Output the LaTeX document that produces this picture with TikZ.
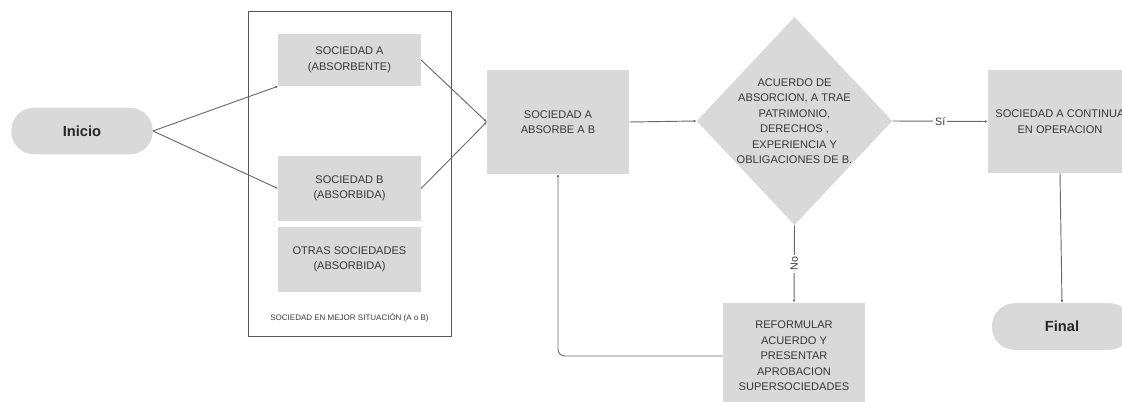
\documentclass[tikz,border=0pt]{standalone}
\usepackage{fontspec}
\setmainfont{Liberation Sans}
\usetikzlibrary{shapes.geometric,arrows.meta}
\definecolor{boxgray}{HTML}{D9D9D9}
\definecolor{linegray}{HTML}{6A6A6A}
\definecolor{txtgray}{HTML}{383838}
\tikzset{
	caja/.style={rectangle, fill=boxgray, text=txtgray, align=center, font=\fontsize{8.3}{11.6}\selectfont, inner sep=0pt},
	inicfin/.style={rectangle, rounded corners=17pt, fill=boxgray, text=black!85, font=\fontsize{11}{13}\selectfont\bfseries, minimum width=106pt, minimum height=35pt},
	decision/.style={diamond, fill=boxgray, text=txtgray, align=center, font=\fontsize{8.3}{11.6}\selectfont, inner sep=0pt, aspect=0.94, minimum width=146pt, minimum height=156pt},
	flecha/.style={draw=linegray, line width=0.7pt, -{Latex[length=2pt,width=2pt]}},
	etiq/.style={fill=white, text=txtgray, font=\fontsize{8}{10}\selectfont, inner sep=1.5pt}
}
\begin{document}
\begin{tikzpicture}[x=0.75pt, y=-0.75pt]
		%%%%% START %%%%%
		\useasboundingbox (0,0) rectangle (1122,402);
		
		\node[inicfin] (inicio) at (82, 131) {Inicio};
		
		\draw[draw=black!65, line width=0.6pt] (248, 11) rectangle (451, 336);
		\node[caja, minimum width=107pt, minimum height=39pt] (socA) at (349.5, 60) {SOCIEDAD A\\(ABSORBENTE)};
		\node[caja, minimum width=107pt, minimum height=49pt] (socB) at (349.5, 188.5) {SOCIEDAD B\\(ABSORBIDA)};
		\node[caja, minimum width=107pt, minimum height=49pt] (otras) at (349.5, 259.5) {OTRAS SOCIEDADES\\(ABSORBIDA)};
		\node[text=txtgray, font=\fontsize{6}{7}\selectfont] (mejor) at (349.5, 318) {SOCIEDAD EN MEJOR SITUACIÓN (A o B)};
		
		\node[caja, minimum width=106.5pt, minimum height=78pt] (socAB) at (558, 122) {SOCIEDAD A\\ABSORBE A B};
		\node[decision] (acuerdo) at (794.5, 121) {ACUERDO DE\\ABSORCION, A TRAE\\PATRIMONIO,\\DERECHOS ,\\EXPERIENCIA Y\\OBLIGACIONES DE B.};
		\node[caja, minimum width=108pt, minimum height=77pt] (socCont) at (1060, 121.5) {SOCIEDAD A CONTINUA\\EN OPERACION};
		\node[caja, minimum width=106.5pt, minimum height=80pt] (reform) at (794, 356) {REFORMULAR\\ACUERDO Y\\PRESENTAR\\APROBACION\\SUPERSOCIEDADES};
		\node[inicfin, minimum width=105pt] (final) at (1062, 326.5) {Final};
		
		\draw[flecha] (inicio.east) -- (socA.south west);
		\draw[flecha] (inicio.east) -- (socB.west);
		\draw[flecha] (socA.east) -- (socAB.west);
		\draw[flecha] (socB.east) -- (socAB.west);
		\draw[flecha] (socAB.east) -- (acuerdo.west);
		\draw[flecha] (acuerdo.east) -- node[etiq] (si) {Sí} (socCont.west);
		\draw[flecha] (acuerdo.south) -- node[etiq, rotate=90] (no) {No} (reform.north);
		\draw[flecha] (socCont.south) -- (final.north);
		\draw[flecha, rounded corners=5pt] (reform.west) -| (socAB.south);
		
		%%%%% END %%%%%
\end{tikzpicture}
\end{document}
